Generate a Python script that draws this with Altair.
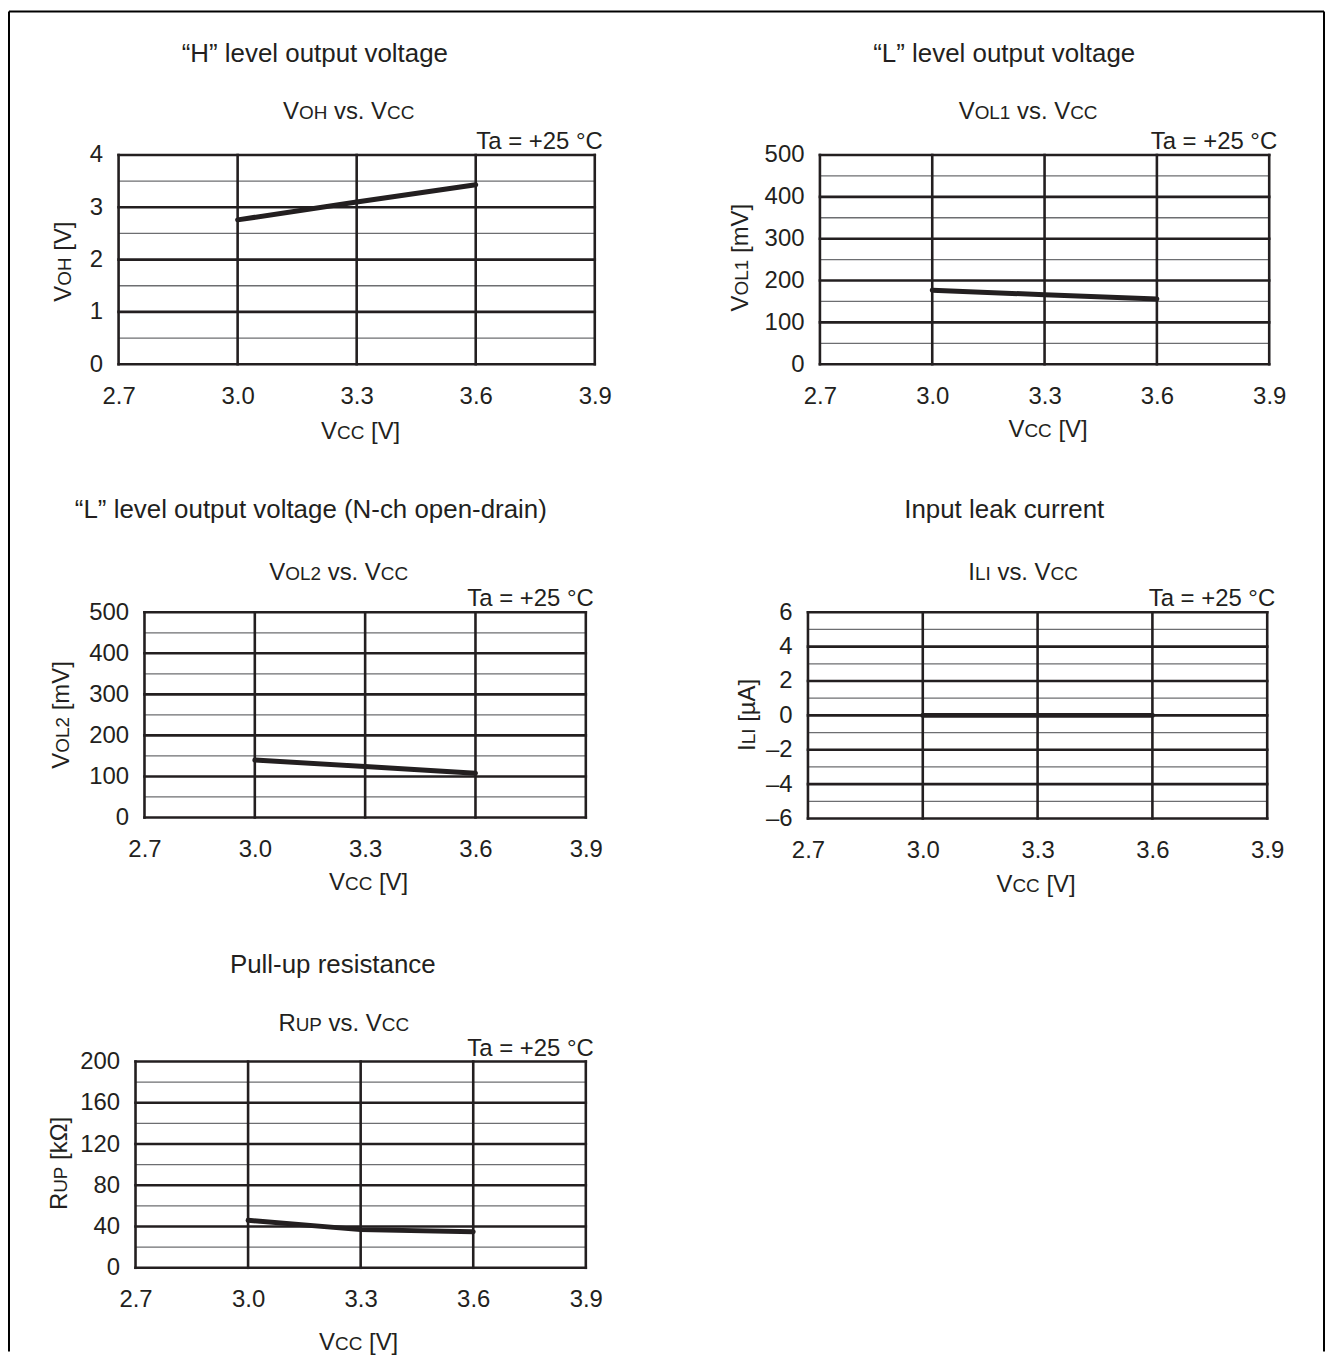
import altair as alt
import pandas as pd

FONT = "Liberation Sans"
INK = "#231f20"
GRID_MINOR = "#6d6e71"

# ---------------- data ----------------
vcc = [3.0, 3.3, 3.6]
voh = [2.76, 3.10, 3.43]
vol1 = [177, 166, 156]
vol2 = [140, 124, 108]
ili = [0.0, 0.0, 0.0]
rup = [46, 37, 35]

x_ticks = [2.7, 3.0, 3.3, 3.6, 3.9]
voh_major = [0, 1, 2, 3, 4]
voh_minor = [0.5, 1.5, 2.5, 3.5]
vol_major = [0, 100, 200, 300, 400, 500]
vol_minor = [50, 150, 250, 350, 450]
ili_major = [-6, -4, -2, 0, 2, 4, 6]
ili_minor = [-5, -3, -1, 1, 3, 5]
rup_major = [0, 40, 80, 120, 160, 200]
rup_minor = [20, 60, 100, 140, 180]

# ---------------- text helpers ----------------
BIG = 24
SMALL = 19
TITLE = 26
ADV = {'V': 667, 'O': 778, 'H': 722, 'L': 556, 'C': 722, 'I': 278, 'R': 722,
       'U': 722, 'P': 667, '1': 556, '2': 556, ' ': 278, 'v': 500, 's': 500,
       '.': 278, '[': 278, ']': 278, 'm': 833, 'µ': 576, 'A': 667, 'k': 500,
       'Ω': 768}

ONE = pd.DataFrame({'d': [0]})


def seg_width(t, size):
    return sum(ADV.get(c, 556) for c in t) * size / 1000.0


def _txt(t, s, x, y, angle=0):
    kw = dict(text=t, font=FONT, fontSize=s, color=INK, align='left', baseline='alphabetic')
    if angle:
        kw['angle'] = angle
    return alt.Chart(ONE).mark_text(**kw).encode(x=alt.value(x), y=alt.value(y))


def rich_text(segments, cx, cy, angle=0):
    """segments: list of (text, size); centred on cx (or on cy when rotated)."""
    total = sum(seg_width(t, s) for t, s in segments)
    out = []
    pos = (cx - total / 2) if angle == 0 else (cy + total / 2)
    sign = 1 if angle == 0 else -1
    for t, s in segments:
        lead = len(t) - len(t.lstrip(' '))
        pos += sign * lead * ADV[' '] * s / 1000.0
        body = t.strip(' ')
        if angle == 0:
            out.append(_txt(body, s, pos, cy))
        else:
            out.append(_txt(body, s, cx, pos, angle))
        pos += sign * seg_width(body, s)
    return out


def plain_text(t, x, y, size, align='center'):
    return alt.Chart(ONE).mark_text(
        text=t, font=FONT, fontSize=size, color=INK, align=align,
        baseline='alphabetic').encode(x=alt.value(x), y=alt.value(y))


def panel(cfg):
    w, h = cfg['w'], cfg['h']
    major, minor = cfg['major'], cfg['minor']
    xaxis = alt.Axis(values=x_ticks, format='.1f', labelFont=FONT, labelFontSize=BIG,
                     labelColor=INK, ticks=False, domain=False, grid=False,
                     labelPadding=20, title=None, labelFlush=False)
    yaxis_kw = dict(values=major, labelFont=FONT, labelFontSize=BIG, labelColor=INK,
                    ticks=False, domain=False, grid=False, labelPadding=16,
                    title=None, labelFlush=False)
    if cfg.get('dash'):
        yaxis_kw['labelExpr'] = "datum.value < 0 ? '\u2013' + abs(datum.value) : datum.label"
    yaxis = alt.Axis(**yaxis_kw)
    X = alt.X('vcc:Q', scale=alt.Scale(domain=[2.7, 3.9], nice=False, zero=False), axis=xaxis)
    Y = alt.Y('val:Q', scale=alt.Scale(domain=[min(major), max(major)], nice=False, zero=False),
              axis=yaxis)

    minor_l = alt.Chart(pd.DataFrame({'val': minor})).mark_rule(
        color=GRID_MINOR, strokeWidth=1.3).encode(y=Y)
    major_l = alt.Chart(pd.DataFrame({'val': major})).mark_rule(
        color=INK, strokeWidth=2.6, strokeCap='square').encode(y=Y)
    vert_l = alt.Chart(pd.DataFrame({'vcc': x_ticks})).mark_rule(
        color=INK, strokeWidth=2.6, strokeCap='square').encode(x=X)
    line_l = alt.Chart(pd.DataFrame({'vcc': cfg['x'], 'val': cfg['y']})).mark_line(
        color=INK, strokeWidth=5, strokeCap='round').encode(x=X, y=Y)

    layers = [minor_l, major_l, vert_l, line_l]
    tx, ty = cfg['title_pos']
    layers.append(plain_text(cfg['title'], tx, ty, TITLE))
    sx, sy = cfg['sub_pos']
    layers += rich_text(cfg['sub'], sx, sy)
    layers.append(plain_text('Ta = +25 °C', w + 8, -6, BIG, align='right'))
    yx, yy = cfg['ytitle_pos']
    layers += rich_text(cfg['ytitle'], yx, yy, angle=270)
    xx, xy = cfg['xtitle_pos']
    layers += rich_text([('V', BIG), ('CC', SMALL), (' [V]', BIG)], xx, xy)
    layers += cfg.get('extra', [])
    return alt.layer(*layers).properties(width=w, height=h)


def spacer(w, h):
    return alt.Chart(ONE).mark_text(text='').encode(
        x=alt.value(2), y=alt.value(10)).properties(width=w, height=h)


# outer frame (drawn in panel 1's coordinate system)
frame = [
    alt.Chart(ONE).mark_rule(color='#000000', strokeWidth=2).encode(
        x=alt.value(-110), y=alt.value(-144), y2=alt.value(1201)),
    alt.Chart(ONE).mark_rule(color='#000000', strokeWidth=2).encode(
        x=alt.value(-110), x2=alt.value(1210), y=alt.value(-144)),
    alt.Chart(ONE).mark_rule(color='#000000', strokeWidth=2).encode(
        x=alt.value(1210), y=alt.value(-144), y2=alt.value(1201)),
]

p1 = panel(dict(
    w=478, h=210, major=voh_major, minor=voh_minor, x=vcc, y=voh,
    title='\u201cH\u201d level output voltage', title_pos=(197, -93),
    sub=[('V', BIG), ('OH', SMALL), (' vs. V', BIG), ('CC', SMALL)], sub_pos=(231, -36),
    ytitle=[('V', BIG), ('OH', SMALL), (' [V]', BIG)], ytitle_pos=(-48, 107),
    xtitle_pos=(243, 285), extra=frame))

p2 = panel(dict(
    w=451, h=210, major=vol_major, minor=vol_minor, x=vcc, y=vol1,
    title='\u201cL\u201d level output voltage', title_pos=(185, -93),
    sub=[('V', BIG), ('OL1', SMALL), (' vs. V', BIG), ('CC', SMALL)], sub_pos=(209, -36),
    ytitle=[('V', BIG), ('OL1', SMALL), (' [mV]', BIG)], ytitle_pos=(-72, 103),
    xtitle_pos=(229, 283)))

p3 = panel(dict(
    w=443, h=206, major=vol_major, minor=vol_minor, x=vcc, y=vol2,
    title='\u201cL\u201d level output voltage (N-ch open-drain)', title_pos=(167, -95),
    sub=[('V', BIG), ('OL2', SMALL), (' vs. V', BIG), ('CC', SMALL)], sub_pos=(195, -32),
    ytitle=[('V', BIG), ('OL2', SMALL), (' [mV]', BIG)], ytitle_pos=(-76, 103),
    xtitle_pos=(225, 279)))

p4 = panel(dict(
    w=461, h=207, major=ili_major, minor=ili_minor, x=vcc, y=ili, dash=True,
    title='Input leak current', title_pos=(197, -95),
    sub=[('I', BIG), ('LI', SMALL), (' vs. V', BIG), ('CC', SMALL)], sub_pos=(216, -32),
    ytitle=[('I', BIG), ('LI', SMALL), (' [µA]', BIG)], ytitle_pos=(-53, 103),
    xtitle_pos=(229, 281)))

p5 = panel(dict(
    w=452, h=207, major=rup_major, minor=rup_minor, x=vcc, y=rup,
    title='Pull-up resistance', title_pos=(198, -89),
    sub=[('R', BIG), ('UP', SMALL), (' vs. V', BIG), ('CC', SMALL)], sub_pos=(209, -31),
    ytitle=[('R', BIG), ('UP', SMALL), (' [kΩ]', BIG)], ytitle_pos=(-69, 102),
    xtitle_pos=(224, 290)))

row1 = alt.hconcat(spacer(111, 10), p1, spacer(226, 10), p2, spacing=0, bounds='flush')
row2 = alt.hconcat(spacer(137, 10), p3, spacer(223, 10), p4, spacing=0, bounds='flush')
row3 = alt.hconcat(spacer(128, 10), p5, spacing=0, bounds='flush')

# nested rows count as zero height under flush bounds, so the spacer rows
# carry the full vertical step from one row's top to the next
chart = alt.vconcat(
    spacer(10, 145), row1, spacer(10, 459), row2, spacer(10, 451), row3,
    spacing=0, bounds='flush'
).properties(padding=0, background='white').configure_view(strokeWidth=0)

chart.save("out.html", embed_options={"renderer": "svg", "actions": False})
